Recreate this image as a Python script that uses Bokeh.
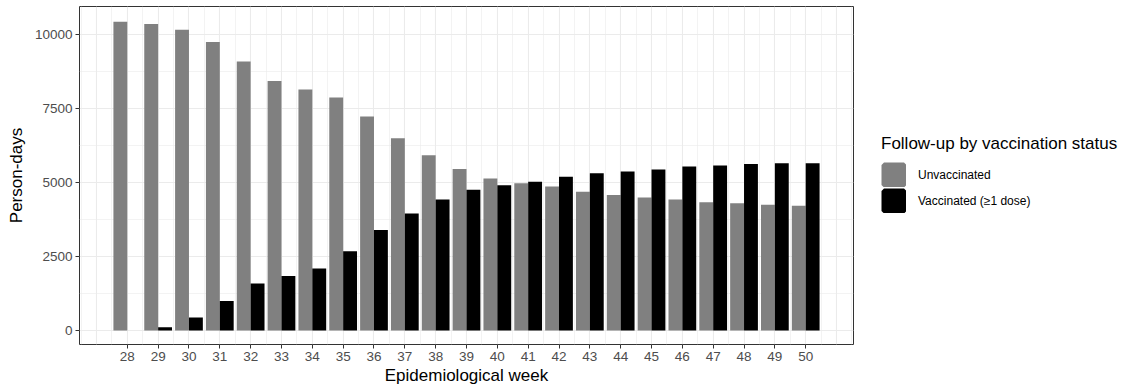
from bokeh.plotting import figure
from bokeh.layouts import row
from bokeh.models import ColumnDataSource, FixedTicker, Range1d, Legend, LegendItem
from bokeh.transform import dodge
from bokeh.embed import file_html
from bokeh.resources import INLINE

weeks = list(range(28, 51))
unvaccinated = [10440, 10370, 10170, 9760, 9100, 8440, 8150, 7880, 7240, 6500,
                5930, 5460, 5140, 4980, 4870, 4690, 4580, 4500, 4430, 4340,
                4300, 4250, 4220]
vaccinated = [0, 110, 440, 1000, 1590, 1840, 2100, 2680, 3400, 3960,
              4430, 4760, 4915, 5030, 5200, 5320, 5380, 5445, 5545, 5580,
              5635, 5660, 5660]
y_ticks = [0, 2500, 5000, 7500, 10000]
series_names = ["Unvaccinated", "Vaccinated (\u22651 dose)"]
series_colors = ["#808080", "#000000"]

src = ColumnDataSource(dict(week=weeks, unvac=unvaccinated, vac=vaccinated))

FONT = "Liberation Sans"
LEFT, TOP, FRAME_W, FRAME_H, BOTTOM = 79, 6, 774, 338, 48
TOTAL_W, TOTAL_H = 1129, TOP + FRAME_H + BOTTOM

p = figure(frame_width=FRAME_W, frame_height=FRAME_H, output_backend="svg",
           toolbar_location=None, x_range=Range1d(26.45, 51.55),
           y_range=Range1d(-473, 10958),
           min_border_left=LEFT, min_border_top=TOP, min_border_bottom=BOTTOM,
           min_border_right=1)
p.background_fill_color = "white"
p.border_fill_color = "white"
p.outline_line_color = "#333333"
p.outline_line_width = 1

r1 = p.vbar(x=dodge("week", -0.225), top="unvac", width=0.45, source=src,
            fill_color=series_colors[0], line_color=None)
r2 = p.vbar(x=dodge("week", 0.225), top="vac", width=0.45, source=src,
            fill_color=series_colors[1], line_color=None)

# axes
p.xaxis.ticker = FixedTicker(ticks=weeks)
p.yaxis.ticker = FixedTicker(ticks=y_ticks)
for ax in (p.xaxis[0], p.yaxis[0]):
    ax.axis_line_color = None
    ax.major_tick_line_color = "#333333"
    ax.major_tick_in = 0
    ax.major_tick_out = 4
    ax.minor_tick_line_color = None
    ax.major_label_text_font = FONT
    ax.major_label_text_font_size = "13.5px"
    ax.major_label_text_color = "#4d4d4d"
    ax.major_label_standoff = 3
    ax.axis_label_text_font = FONT
    ax.axis_label_text_font_size = "17px"
    ax.axis_label_text_font_style = "normal"
    ax.axis_label_text_color = "#000000"
p.xaxis.axis_label = "Epidemiological week"
p.yaxis.axis_label = "Person-days"
p.xaxis.major_label_standoff = 3
p.xaxis.axis_label_standoff = 2
p.yaxis.axis_label_standoff = 6

# grids
p.xgrid.ticker = FixedTicker(ticks=list(range(27, 52)),
                             minor_ticks=[w + 0.5 for w in range(26, 52)])
p.ygrid.ticker = FixedTicker(ticks=y_ticks, minor_ticks=[1250, 3750, 6250, 8750])
for g in (p.xgrid[0], p.ygrid[0]):
    g.grid_line_color = "#ebebeb"
    g.grid_line_width = 1.1
    g.minor_grid_line_color = "#ebebeb"
    g.minor_grid_line_width = 0.6

# legend panel: a separate axis-less figure to the right of the main panel
LEG_W = TOTAL_W - (LEFT + FRAME_W + 1)
lf = figure(width=LEG_W, height=TOTAL_H, output_backend="svg",
            toolbar_location=None, x_range=Range1d(0, 1), y_range=Range1d(0, 1),
            x_axis_location=None, y_axis_location=None, min_border=0)
lf.grid.visible = False
lf.outline_line_color = None
lf.background_fill_color = "white"
lf.border_fill_color = "white"
# hidden key renderers (used only for the legend swatches)
key_src = ColumnDataSource(dict(x=[5], top=[5]))
d1 = lf.vbar(x="x", top="top", width=0.5, source=key_src,
             fill_color=series_colors[0], line_color=series_colors[0], line_width=5)
d2 = lf.vbar(x="x", top="top", width=0.5, source=key_src,
             fill_color=series_colors[1], line_color=series_colors[1], line_width=5)
d1.visible = False
d2.visible = False

legend = Legend(items=[LegendItem(label=series_names[0], renderers=[d1]),
                       LegendItem(label=series_names[1], renderers=[d2])],
                location=(27, 131),
                title="Follow-up by vaccination status",
                title_text_font=FONT, title_text_font_size="17px",
                title_text_font_style="normal", title_text_color="#000000",
                title_standoff=8,
                label_text_font=FONT, label_text_font_size="12px",
                label_text_color="#000000", label_standoff=12,
                glyph_width=25, glyph_height=25, label_height=25, spacing=1,
                border_line_color=None, background_fill_alpha=0,
                inactive_fill_alpha=0,
                margin=0, padding=10)
lf.add_layout(legend)

layout = row(p, lf, spacing=0)
open("out.html", "w").write(file_html(layout, INLINE))
